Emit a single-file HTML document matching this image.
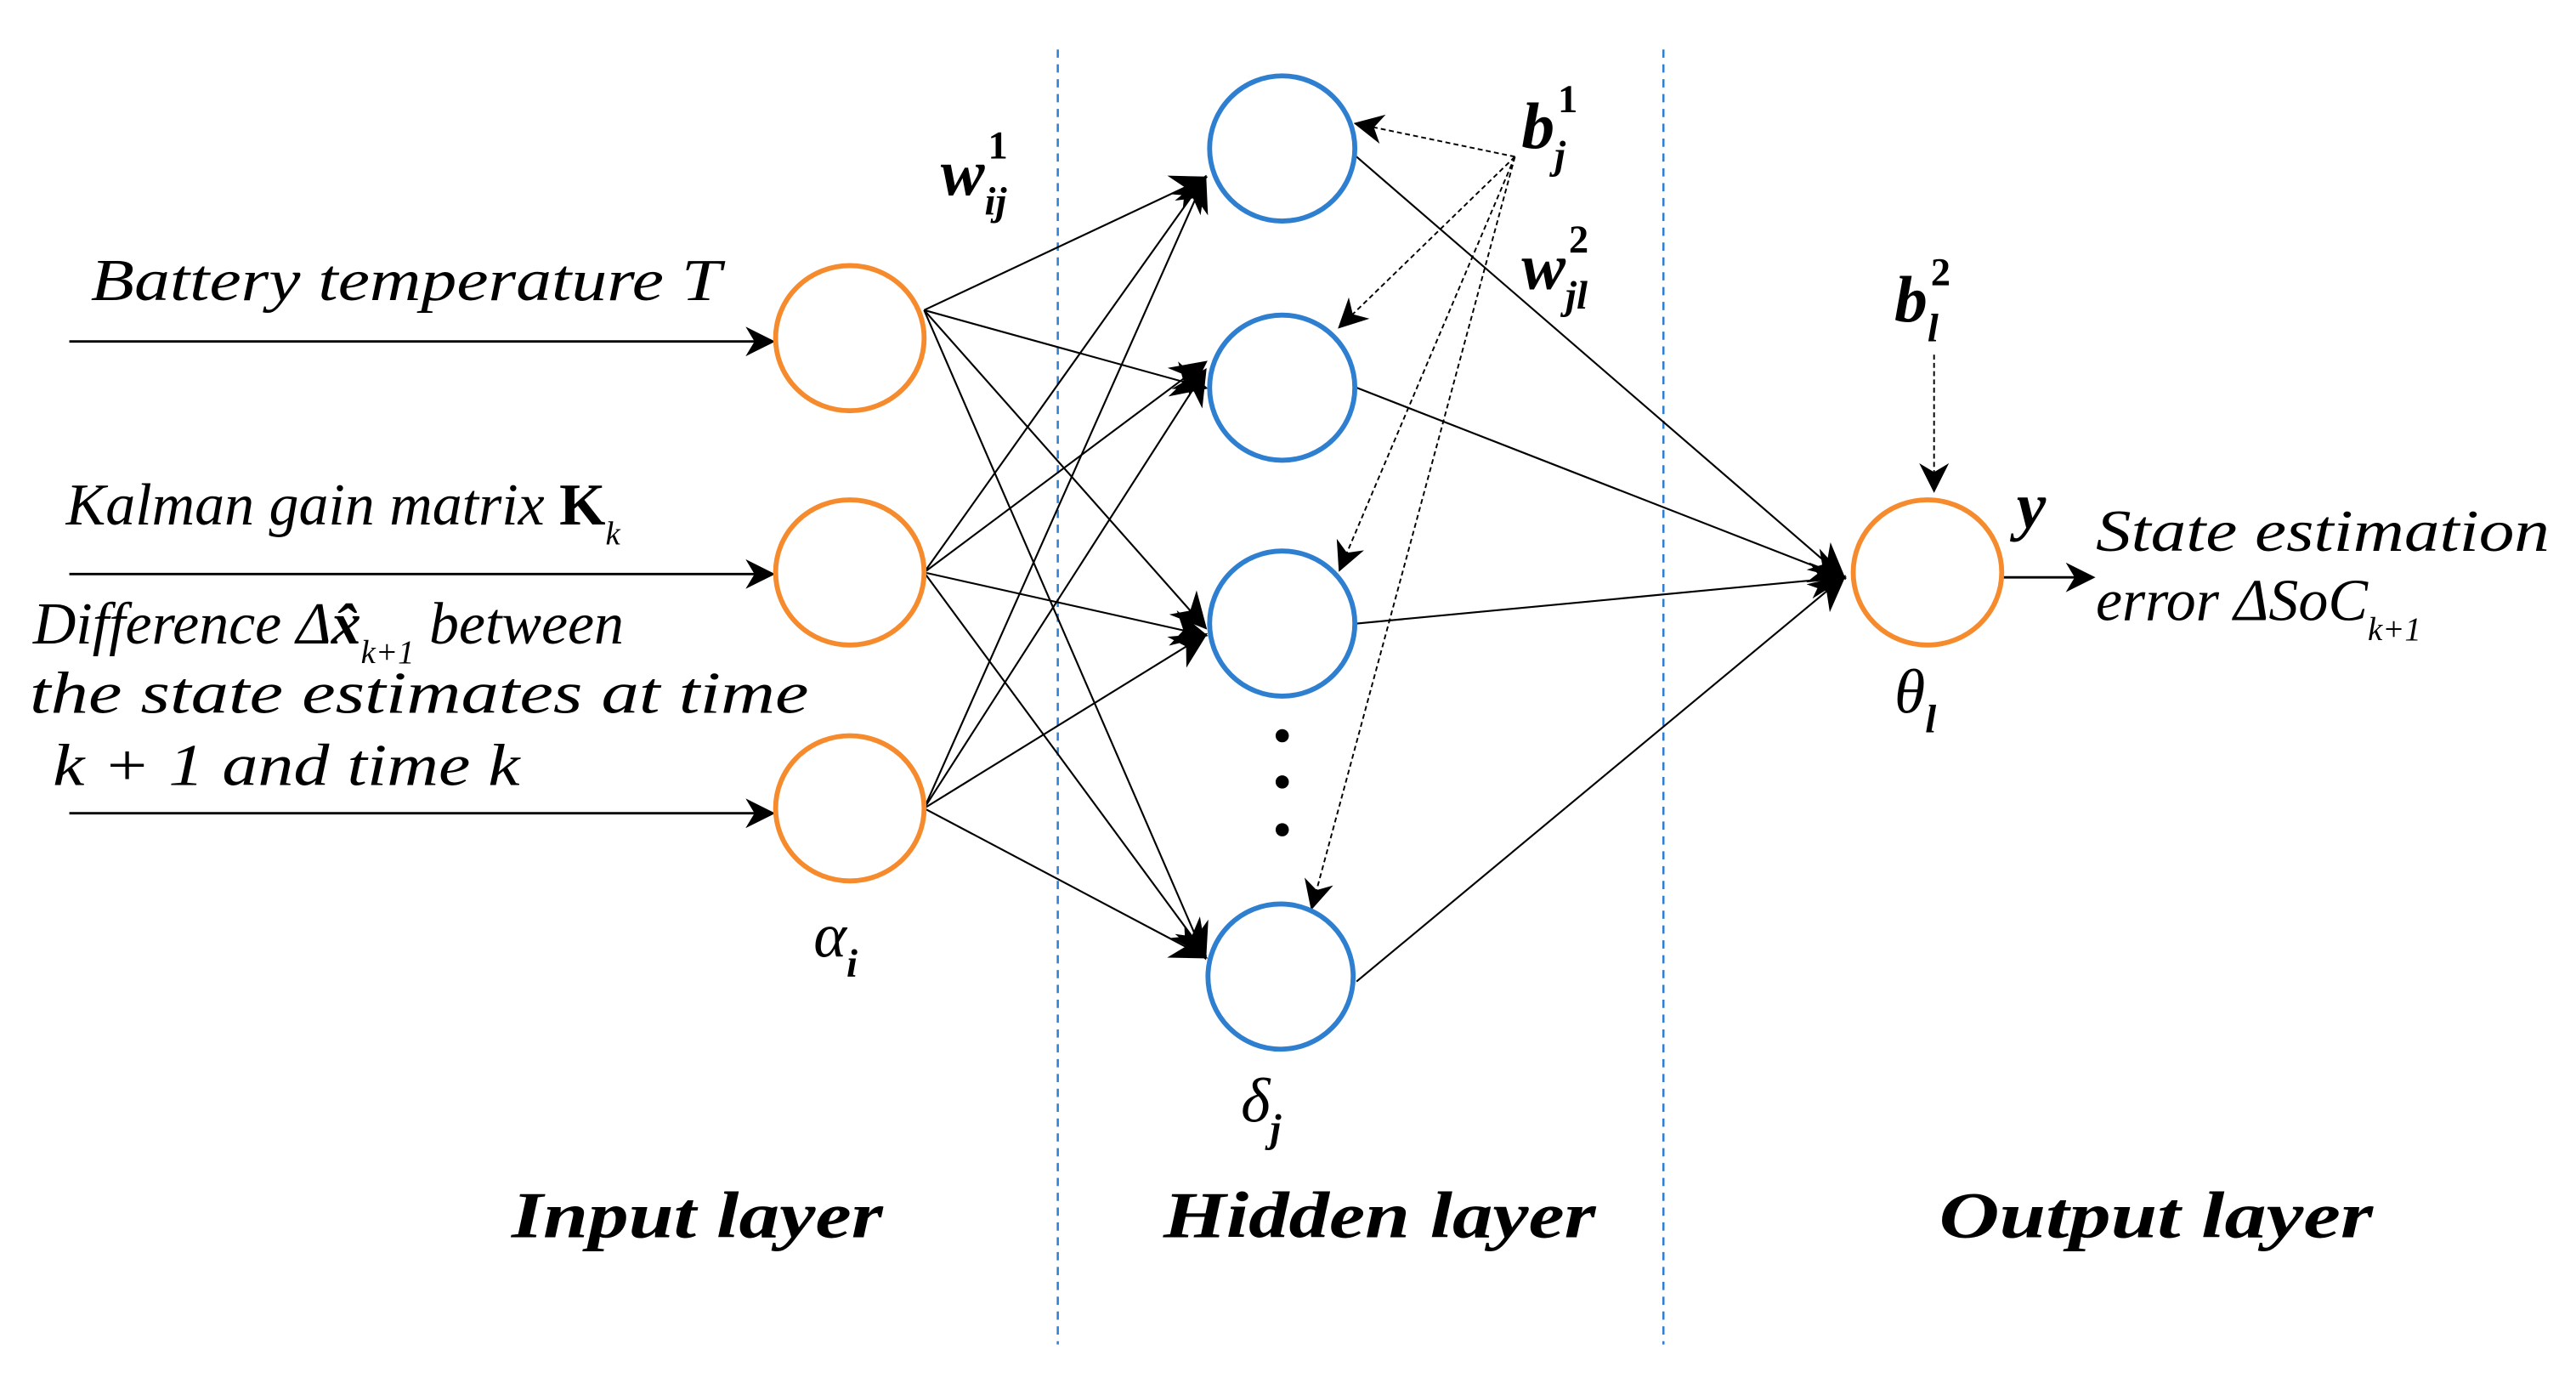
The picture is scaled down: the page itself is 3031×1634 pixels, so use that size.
<!DOCTYPE html>
<html><head><meta charset="utf-8"><style>
html,body{margin:0;padding:0;background:#fff;}
svg{display:block;}
text{font-family:"Liberation Serif",serif;font-style:italic;fill:#000;}
</style></head><body>
<svg width="3031" height="1634" viewBox="0 0 1561 842" preserveAspectRatio="none" xmlns="http://www.w3.org/2000/svg">
<defs>
<marker id="b" viewBox="0 0 10 10" refX="9" refY="5" markerWidth="18" markerHeight="18" orient="auto" markerUnits="userSpaceOnUse"><path d="M0,0 L10,5 L0,10 L3,5 z" fill="#000"/></marker>
<marker id="c" viewBox="0 0 10 10" refX="9" refY="5" markerWidth="22" markerHeight="22" orient="auto" markerUnits="userSpaceOnUse"><path d="M0,0 L10,5 L0,10 L3,5 z" fill="#000"/></marker>
</defs>
<g stroke="#2f7fd0" stroke-width="1.3" stroke-dasharray="5,4">
<line x1="641" y1="30" x2="641" y2="815"/><line x1="1008" y1="30" x2="1008" y2="815"/>
</g>
<g stroke="#000" stroke-width="1.5" marker-end="url(#b)">
<line x1="42" y1="207" x2="468" y2="207"/>
<line x1="42" y1="348" x2="468" y2="348"/>
<line x1="42" y1="493" x2="468" y2="493"/>
<line x1="1213" y1="350" x2="1268" y2="350"/>
</g>
<g stroke="#000" stroke-width="1.1" marker-end="url(#c)">
<line x1="560" y1="188" x2="730" y2="108"/><line x1="560" y1="188" x2="730" y2="235"/><line x1="560" y1="188" x2="730" y2="380"/><line x1="560" y1="188" x2="730" y2="580"/>
<line x1="560" y1="347" x2="730" y2="108"/><line x1="560" y1="347" x2="730" y2="220"/><line x1="560" y1="347" x2="730" y2="385"/><line x1="560" y1="347" x2="730" y2="578"/>
<line x1="560" y1="490" x2="730" y2="108"/><line x1="560" y1="490" x2="730" y2="225"/><line x1="560" y1="490" x2="730" y2="385"/><line x1="560" y1="490" x2="730" y2="580"/>
<line x1="822" y1="95" x2="1117" y2="350"/><line x1="822" y1="235" x2="1117" y2="350"/><line x1="822" y1="378" x2="1117" y2="350"/><line x1="822" y1="595" x2="1117" y2="350"/>
</g>
<g stroke="#000" stroke-width="1" stroke-dasharray="3,2" marker-end="url(#b)">
<line x1="918" y1="95" x2="822" y2="75"/><line x1="918" y1="95" x2="812" y2="198"/><line x1="918" y1="95" x2="812" y2="345"/><line x1="918" y1="95" x2="795" y2="550"/>
<line x1="1172" y1="215" x2="1172" y2="297"/>
</g>
<g fill="#fff" stroke="#f68b2e" stroke-width="3">
<ellipse cx="515" cy="205" rx="45" ry="44"/><ellipse cx="515" cy="347" rx="45" ry="44"/><ellipse cx="515" cy="490" rx="45" ry="44"/><ellipse cx="1168" cy="347" rx="45" ry="44"/>
</g>
<g fill="#fff" stroke="#2f7fd0" stroke-width="3">
<ellipse cx="777" cy="90" rx="44" ry="44"/><ellipse cx="777" cy="235" rx="44" ry="44"/><ellipse cx="777" cy="378" rx="44" ry="44"/><ellipse cx="776" cy="592" rx="44" ry="44"/>
</g>
<g fill="#000"><circle cx="777" cy="446" r="4"/><circle cx="777" cy="474" r="4"/><circle cx="777" cy="503" r="4"/></g>
<g font-size="36">
<text x="55" y="182" textLength="382" lengthAdjust="spacingAndGlyphs">Battery temperature T</text>
<text x="40" y="318">Kalman gain matrix <tspan font-style="normal" font-weight="bold">K</tspan><tspan font-size="20" dy="12">k</tspan></text>
<text x="20" y="390">Difference Δ<tspan font-weight="bold">x̂</tspan><tspan font-size="20" dy="12">k+1</tspan><tspan dy="-12"> between</tspan></text>
<text x="18" y="432" textLength="472" lengthAdjust="spacingAndGlyphs">the state estimates at time</text>
<text x="32" y="476" textLength="283" lengthAdjust="spacingAndGlyphs">k + 1 and time k</text>
<text x="1270" y="334" textLength="275" lengthAdjust="spacingAndGlyphs">State estimation</text>
<text x="1270" y="376">error ΔSoC<tspan font-size="20" dy="12">k+1</tspan></text>
</g>
<g font-size="40" font-weight="bold">
<text x="570" y="118">w<tspan font-size="24" font-style="normal" dy="-22" dx="2">1</tspan><tspan font-size="24" dx="-14" dy="34">ij</tspan></text>
<text x="922" y="90">b<tspan font-size="24" font-style="normal" dy="-22" dx="2">1</tspan><tspan font-size="24" dx="-14" dy="34">j</tspan></text>
<text x="922" y="175">w<tspan font-size="24" font-style="normal" dy="-22" dx="2">2</tspan><tspan font-size="24" dx="-14" dy="34">jl</tspan></text>
<text x="1148" y="195">b<tspan font-size="24" font-style="normal" dy="-22" dx="2">2</tspan><tspan font-size="24" dx="-14" dy="34">l</tspan></text>
<text x="1222" y="320">y</text>
</g>
<g font-size="38">
<text x="493" y="580">α<tspan font-size="24" font-weight="bold" dy="12">i</tspan></text>
<text x="752" y="680">δ<tspan font-size="24" font-weight="bold" dy="12">j</tspan></text>
<text x="1148" y="432">θ<tspan font-size="24" font-weight="bold" dy="12">l</tspan></text>
</g>
<g font-size="40" font-weight="bold">
<text x="310" y="750" textLength="225" lengthAdjust="spacingAndGlyphs">Input layer</text>
<text x="705" y="750" textLength="262" lengthAdjust="spacingAndGlyphs">Hidden layer</text>
<text x="1175" y="750" textLength="263" lengthAdjust="spacingAndGlyphs">Output layer</text>
</g>
</svg>
</body></html>
